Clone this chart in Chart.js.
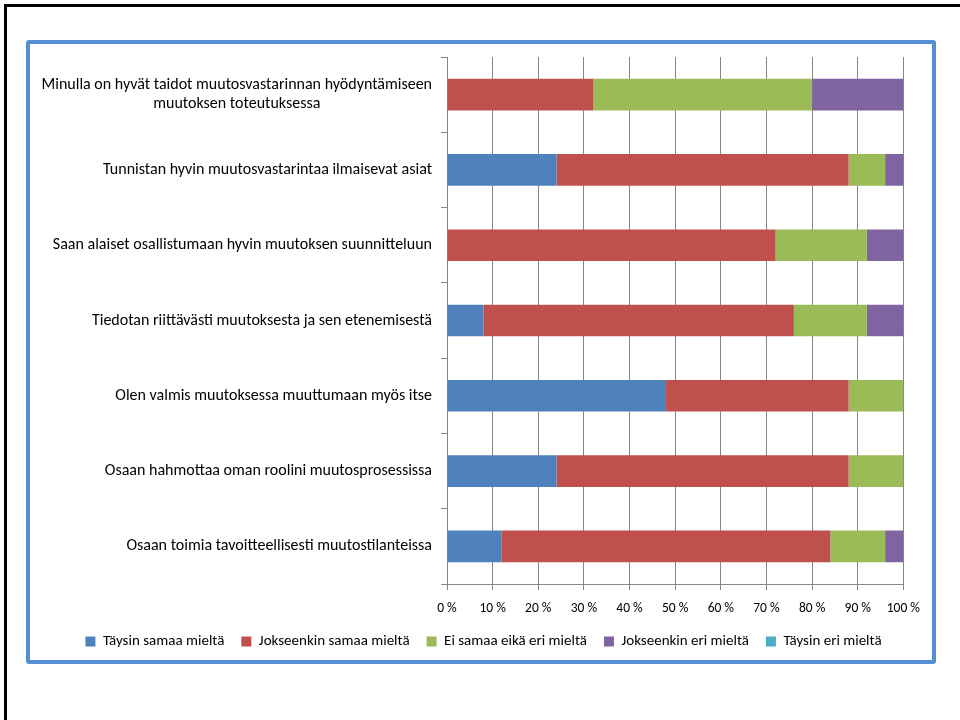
<!DOCTYPE html>
<html lang="fi">
<head>
<meta charset="utf-8">
<title>Muutosjohtaminen</title>
<script src="https://cdn.jsdelivr.net/npm/chart.js@4/dist/chart.umd.min.js"></script>
<style>
  html, body { margin: 0; padding: 0; background: #fff; }
  body { width: 960px; height: 720px; position: relative; overflow: hidden; }
  .frame-top { position: absolute; left: 4px; top: 4px; right: 0; height: 3px; background: #000; }
  .frame-left { position: absolute; left: 4px; top: 4px; bottom: 0; width: 3px; background: #000; }
  .box {
    position: absolute; left: 26px; top: 40px; width: 902px; height: 616px;
    border: 4px solid #558ed5; border-radius: 3px;
  }
  .box canvas { position: absolute; left: 1px; top: 1px; }
</style>
</head>
<body>
<div class="frame-top"></div>
<div class="frame-left"></div>
<div class="box">
  <canvas id="chart" width="900" height="614"></canvas>
</div>
<script>
// väittämät ylhäältä alas
const categories = [
  ['Minulla on hyvät taidot muutosvastarinnan hyödyntämiseen', 'muutoksen toteutuksessa'],
  'Tunnistan hyvin muutosvastarintaa ilmaisevat asiat',
  'Saan alaiset osallistumaan hyvin muutoksen suunnitteluun',
  'Tiedotan riittävästi muutoksesta ja sen etenemisestä',
  'Olen valmis muutoksessa muuttumaan myös itse',
  'Osaan hahmottaa oman roolini muutosprosessissa',
  'Osaan toimia tavoitteellisesti muutostilanteissa'
];

// vastausjakaumat prosentteina
const taysinSamaa = [0, 24, 0, 8, 48, 24, 12];
const jokseenkinSamaa = [32, 64, 72, 68, 40, 64, 72];
const eiSamaaEikaEri = [48, 8, 20, 16, 12, 12, 12];
const jokseenkinEri = [20, 4, 8, 8, 0, 0, 4];
const taysinEri = [0, 0, 0, 0, 0, 0, 0];

const xTicks = [0, 10, 20, 30, 40, 50, 60, 70, 80, 90, 100];

const FONT = 'Carlito, Lato, "Liberation Sans", sans-serif';
const gridColor = '#868686';

// kategorianimet piirretään itse, jotta kaksiriviset tekstit keskittyvät
const yLabels = {
  id: 'yLabels',
  afterDraw(chart) {
    const { ctx, chartArea } = chart;
    const yScale = chart.scales.y;
    ctx.save();
    ctx.font = '16px ' + FONT;
    ctx.fillStyle = '#000';
    ctx.textBaseline = 'middle';
    ctx.textAlign = 'center';
    const right = chartArea.left - 15;
    const lineH = 19;
    categories.forEach((label, i) => {
      const lines = Array.isArray(label) ? label : [label];
      const w = Math.max(...lines.map(l => ctx.measureText(l).width));
      const cx = right - w / 2;
      const cy = yScale.getPixelForTick(i);
      lines.forEach((line, j) => {
        ctx.fillText(line, cx, cy + (j - (lines.length - 1) / 2) * lineH);
      });
    });
    ctx.restore();
  }
};

new Chart(document.getElementById('chart'), {
  type: 'bar',
  data: {
    labels: categories,
    datasets: [
      { label: 'Täysin samaa mieltä', data: taysinSamaa, backgroundColor: '#4f81bd' },
      { label: 'Jokseenkin samaa mieltä', data: jokseenkinSamaa, backgroundColor: '#c0504d' },
      { label: 'Ei samaa eikä eri mieltä', data: eiSamaaEikaEri, backgroundColor: '#9bbb59' },
      { label: 'Jokseenkin eri mieltä', data: jokseenkinEri, backgroundColor: '#8064a2' },
      { label: 'Täysin eri mieltä', data: taysinEri, backgroundColor: '#4bacc6' }
    ]
  },
  options: {
    indexAxis: 'y',
    responsive: false,
    animation: false,
    categoryPercentage: 1,
    barPercentage: 0.42,
    layout: { padding: { left: 32, right: 27, top: 12, bottom: 0 } },
    plugins: {
      legend: {
        position: 'bottom',
        labels: {
          font: { family: FONT, size: 15 },
          color: '#000',
          boxWidth: 10,
          boxHeight: 10,
          padding: 17
        }
      },
      tooltip: { enabled: false }
    },
    scales: {
      x: {
        stacked: true,
        min: 0,
        max: 100,
        afterBuildTicks: scale => { scale.ticks = xTicks.map(v => ({ value: v })); },
        afterFit: scale => { scale.height = 33; },
        ticks: {
          font: { family: FONT, size: 13.5 },
          color: '#000',
          padding: 11,
          maxRotation: 0,
          callback: v => v + ' %'
        },
        grid: { color: gridColor, tickLength: 6, lineWidth: 1 },
        border: { color: gridColor }
      },
      y: {
        stacked: true,
        afterFit: scale => { scale.width = 384; },
        ticks: { display: false },
        grid: { color: gridColor, drawOnChartArea: false, tickLength: 6, offset: true },
        border: { color: gridColor }
      }
    }
  },
  plugins: [yLabels]
});
</script>
</body>
</html>
